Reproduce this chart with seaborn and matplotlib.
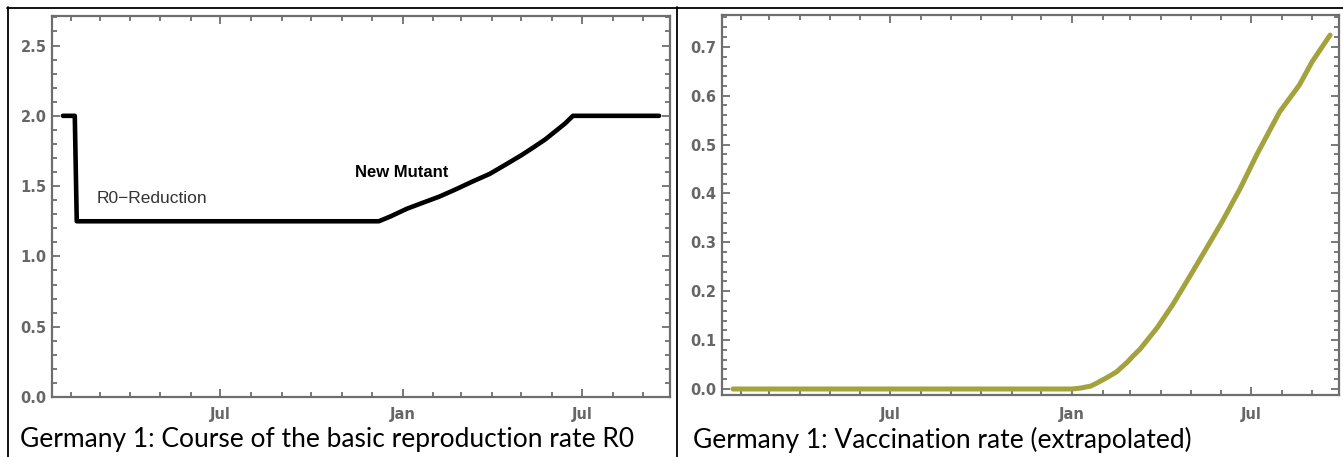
import matplotlib
matplotlib.use("Agg")
import matplotlib.pyplot as plt
import matplotlib.dates as mdates
from matplotlib.lines import Line2D
import pandas as pd
import seaborn as sns

# R0 course
r0_dates = ["2020-01-24", "2020-02-05", "2020-02-07", "2020-12-08", "2020-12-20",
            "2021-01-05", "2021-01-20", "2021-02-07", "2021-02-24", "2021-03-13",
            "2021-03-30", "2021-04-16", "2021-05-01", "2021-05-13", "2021-05-25",
            "2021-06-05", "2021-06-14", "2021-06-22", "2021-09-17"]
r0_values = [2.0, 2.0, 1.25, 1.25, 1.285, 1.338, 1.378, 1.425, 1.478, 1.534,
             1.587, 1.657, 1.72, 1.775, 1.832, 1.894, 1.945, 2.0, 2.0]

# vaccination rate
vacc_dates = ["2020-01-24", "2021-01-01", "2021-01-10", "2021-01-20", "2021-01-26",
              "2021-02-05", "2021-02-15", "2021-02-26", "2021-03-03", "2021-03-11",
              "2021-03-28", "2021-04-13", "2021-04-30", "2021-05-17", "2021-06-02",
              "2021-06-20", "2021-07-07", "2021-07-30", "2021-08-19", "2021-09-01",
              "2021-09-19"]
vacc_values = [0.0, 0.0, 0.002, 0.006, 0.012, 0.023, 0.035, 0.055, 0.066, 0.082,
               0.125, 0.173, 0.23, 0.288, 0.343, 0.41, 0.48, 0.567, 0.622, 0.67,
               0.724]

left_ticks = [0.0, 0.5, 1.0, 1.5, 2.0, 2.5]
right_ticks = [0.0, 0.1, 0.2, 0.3, 0.4, 0.5, 0.6, 0.7]

caption_left = "Germany 1: Course of the basic reproduction rate R0"
caption_right = "Germany 1: Vaccination rate (extrapolated)"

sns.set_style("ticks")

W, H = 1343, 457
fig = plt.figure(figsize=(W / 100, H / 100), dpi=100)
ax1 = fig.add_axes([52 / W, 1 - 397 / H, 618 / W, 381 / H])
ax2 = fig.add_axes([722 / W, 1 - 395 / H, 617 / W, 380 / H])

x_start, x_end = pd.Timestamp("2020-01-13"), pd.Timestamp("2021-09-28")
frame_col = "#6e6e6e"


def style_frame(ax, yticks, minor_step, xpad):
    for s in ax.spines.values():
        s.set_color(frame_col)
        s.set_linewidth(1.6)
    ax.set_xlim(x_start, x_end)
    ax.xaxis.set_major_locator(mdates.MonthLocator(bymonth=[1, 7]))
    ax.xaxis.set_major_formatter(mdates.DateFormatter("%b"))
    ax.xaxis.set_minor_locator(mdates.MonthLocator())
    ax.set_yticks(yticks)
    ax.set_yticklabels([f"{v:.1f}" for v in yticks])
    ax.yaxis.set_minor_locator(matplotlib.ticker.MultipleLocator(minor_step))
    ax.tick_params(which="both", direction="in", top=True, right=True,
                   color=frame_col, width=1.3, labelcolor="#666666",
                   labelsize=10.5)
    ax.tick_params(which="major", length=6)
    ax.tick_params(which="minor", length=3.5)
    ax.tick_params(axis="x", which="major", pad=7 + xpad)
    ax.tick_params(axis="y", which="major", pad=4)
    for lab in ax.get_xticklabels() + ax.get_yticklabels():
        lab.set_fontweight("bold")
    ax.set_xlabel("")
    ax.set_ylabel("")
    ax.grid(False)


sns.lineplot(x=pd.to_datetime(r0_dates), y=r0_values, ax=ax1, color="black",
             linewidth=3.3)
ax1.set_ylim(0, 2.71)
style_frame(ax1, left_ticks, 0.1, 0)
ax1.text(pd.Timestamp("2020-02-27"), 1.41, "R0\u2212Reduction", fontsize=12.5,
         color="#333333", family="Liberation Sans", va="center", ha="left")
ax1.text(pd.Timestamp("2020-11-14"), 1.596, "New Mutant", fontsize=12,
         fontweight="bold", color="black", family="Liberation Sans",
         va="center", ha="left")

sns.lineplot(x=pd.to_datetime(vacc_dates), y=vacc_values, ax=ax2,
             color="#a3a23d", linewidth=3.6)
ax2.set_ylim(-0.0123, 0.765)
style_frame(ax2, right_ticks, 0.02, 2)

# table-like border lines around the two cells
border = dict(color="black", linewidth=1.3, transform=fig.transFigure)
fig.add_artist(Line2D([7 / W, 1], [1 - 7.5 / H] * 2, **border))
fig.add_artist(Line2D([7.5 / W] * 2, [0, 1 - 7 / H], **border))
fig.add_artist(Line2D([677 / W] * 2, [0, 1 - 7 / H], **border))

fig.text(20 / W, 1 - 440 / H, caption_left, fontsize=19, family="Lato",
         va="center", ha="left", color="black")
fig.text(693 / W, 1 - 440 / H, caption_right, fontsize=19, family="Lato",
         va="center", ha="left", color="black")

fig.savefig("out.png", dpi=100)
